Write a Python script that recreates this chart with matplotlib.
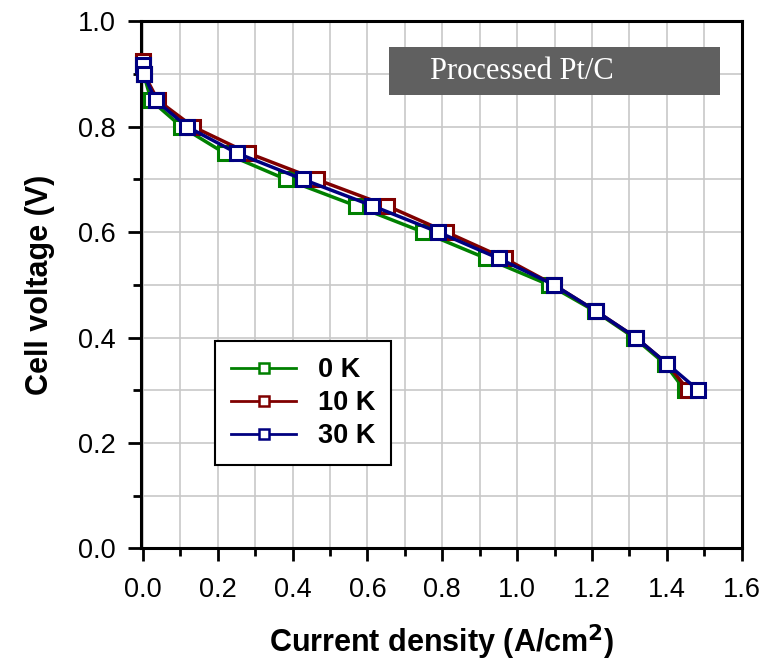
import matplotlib
matplotlib.use('Agg')
import matplotlib.pyplot as plt
from matplotlib.patches import Rectangle
from matplotlib.ticker import MultipleLocator

plt.rcParams['font.family'] = ['Liberation Sans', 'DejaVu Sans']

# cell voltage steps (V), same for all three runs
volt = [0.92, 0.90, 0.85, 0.80, 0.75, 0.70, 0.65, 0.60, 0.55, 0.50, 0.45, 0.40, 0.35, 0.30]

# current density (A/cm2) for each run
cur_0k = [0.0, 0.002, 0.022, 0.103, 0.218, 0.383, 0.569, 0.749, 0.918, 1.085, 1.208, 1.312, 1.395, 1.448]
cur_10k = [0.0, 0.003, 0.040, 0.134, 0.281, 0.464, 0.652, 0.811, 0.967, 1.098, 1.211, 1.317, 1.401, 1.457]
cur_30k = [0.0, 0.002, 0.034, 0.118, 0.251, 0.428, 0.613, 0.789, 0.951, 1.098, 1.211, 1.317, 1.401, 1.484]
volt_10k = [0.925] + volt[1:]
volt_30k = [0.917] + volt[1:]

labels = ['0 K', '10 K', '30 K']
colors = ['#008000', '#800000', '#000080']

fig = plt.figure(figsize=(7.75, 6.67), dpi=100)
ax = fig.add_axes([0.182, 0.178, 0.775, 0.790])

series = [(cur_0k, volt), (cur_10k, volt_10k), (cur_30k, volt_30k)]
for (xs, ys), lab, c in zip(series, labels, colors):
    ax.plot(xs, ys, '-s', color=c, lw=2.5, ms=10.5, mec=c, mfc='white',
            mew=2.2, label=lab, clip_on=False, zorder=3)

ax.set_xlim(-0.005, 1.6)
ax.set_ylim(0.0, 1.0)
ax.xaxis.set_major_locator(MultipleLocator(0.2))
ax.xaxis.set_minor_locator(MultipleLocator(0.1))
ax.yaxis.set_major_locator(MultipleLocator(0.2))
ax.yaxis.set_minor_locator(MultipleLocator(0.1))
ax.xaxis.set_major_formatter(plt.FormatStrFormatter('%.1f'))
ax.yaxis.set_major_formatter(plt.FormatStrFormatter('%.1f'))
ax.grid(True, which='both', color='#c8c8c8', lw=1.2, zorder=0)
ax.set_axisbelow(True)

ax.tick_params(which='major', direction='out', length=9.5, width=2, labelsize=19.5)
ax.tick_params(which='minor', direction='out', length=6, width=2)
ax.tick_params(axis='x', which='major', pad=11)
ax.tick_params(axis='y', which='major', pad=9)
for s in ax.spines.values():
    s.set_linewidth(2.2)

ax.set_xlabel('Current density (A/cm$^\\mathbf{2}$)', fontsize=22, fontweight='bold', labelpad=14)
ax.set_ylabel('Cell voltage (V)', fontsize=22, fontweight='bold', labelpad=16)

# title box in upper right
ax.add_patch(Rectangle((0.413, 0.860), 0.551, 0.091, transform=ax.transAxes,
                       facecolor='#606060', edgecolor='none', zorder=4))
ax.text(0.481, 0.905, 'Processed Pt/C', transform=ax.transAxes, color='white',
        fontsize=22, family='Liberation Serif', va='center', ha='left', zorder=5)

leg = ax.legend(loc='upper left', bbox_to_anchor=(0.123, 0.393), borderaxespad=0,
                fancybox=False, edgecolor='black', framealpha=1,
                prop={'weight': 'bold', 'size': 19.5}, handlelength=2.4,
                handletextpad=0.8, borderpad=0.6, labelspacing=0.25)
leg.get_frame().set_linewidth(1.5)
for ln in leg.get_lines():
    ln.set_linewidth(2)
    ln.set_markersize(7.5)
    ln.set_markeredgewidth(1.8)

fig.savefig('out.png', dpi=100)
